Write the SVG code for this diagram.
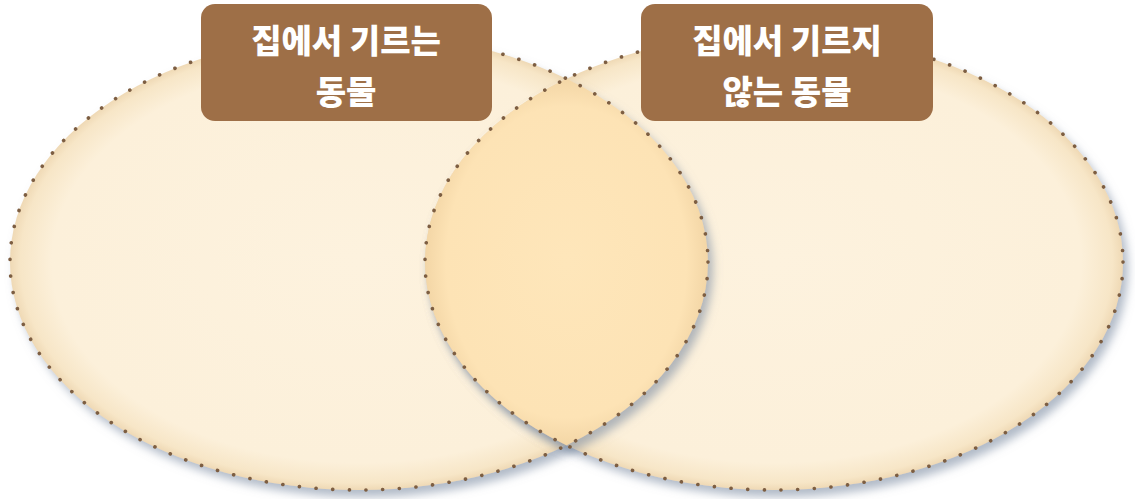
<svg xmlns="http://www.w3.org/2000/svg" width="1135" height="499" viewBox="0 0 1135 499">
<defs>
<style>
.dots{fill:none;stroke:#7d5e42;stroke-width:3.6;stroke-linecap:round;stroke-dasharray:0.1 16.6}
.lbl{fill:#9e6f47}
.lt{fill:#ffffff;font-family:"Noto Sans CJK KR","Noto Sans CJK SC",sans-serif;font-weight:900;font-size:33px;text-anchor:middle}
</style>
<radialGradient id="gOuter" cx="0.5" cy="0.5" r="0.5">
<stop offset="0" stop-color="#fdf2de"/>
<stop offset="0.88" stop-color="#fcf0da"/>
<stop offset="0.97" stop-color="#f7e6c7"/>
<stop offset="1" stop-color="#efd9b5"/>
</radialGradient>
<radialGradient id="gLens" cx="0.5" cy="0.5" r="0.5">
<stop offset="0" stop-color="#fee6ba"/>
<stop offset="0.85" stop-color="#fde3b5"/>
<stop offset="1" stop-color="#f3d6a6"/>
</radialGradient>
<filter id="sh" x="-10%" y="-10%" width="125%" height="130%">
<feDropShadow dx="5" dy="7" stdDeviation="5" flood-color="#7f8ea3" flood-opacity="0.6"/>
</filter>
</defs>
<g id="node-left">
<ellipse cx="359" cy="262" rx="349" ry="228" fill="url(#gOuter)" filter="url(#sh)"/>
</g>
<g id="node-right">
<ellipse cx="774" cy="262" rx="349" ry="228" fill="url(#gOuter)" filter="url(#sh)"/>
</g>
<g id="node-overlap">
<path d="M566.5 78.7 A349 228 0 0 1 566.5 445.3 A349 228 0 0 1 566.5 78.7 Z" fill="url(#gLens)" filter="url(#sh)"/>
</g>
<g id="borders">
<ellipse class="dots" cx="359" cy="262" rx="349" ry="228"/>
<ellipse class="dots" cx="774" cy="262" rx="349" ry="228"/>
</g>
<g id="label-left">
<rect class="lbl" x="201" y="4" width="291" height="117" rx="14"/>
<text class="lt" x="346" y="53">집에서 기르는</text>
<text class="lt" x="346" y="104">동물</text>
</g>
<g id="label-right">
<rect class="lbl" x="641" y="4" width="292" height="117" rx="14"/>
<text class="lt" x="787" y="53">집에서 기르지</text>
<text class="lt" x="787" y="104">않는 동물</text>
</g>
</svg>
